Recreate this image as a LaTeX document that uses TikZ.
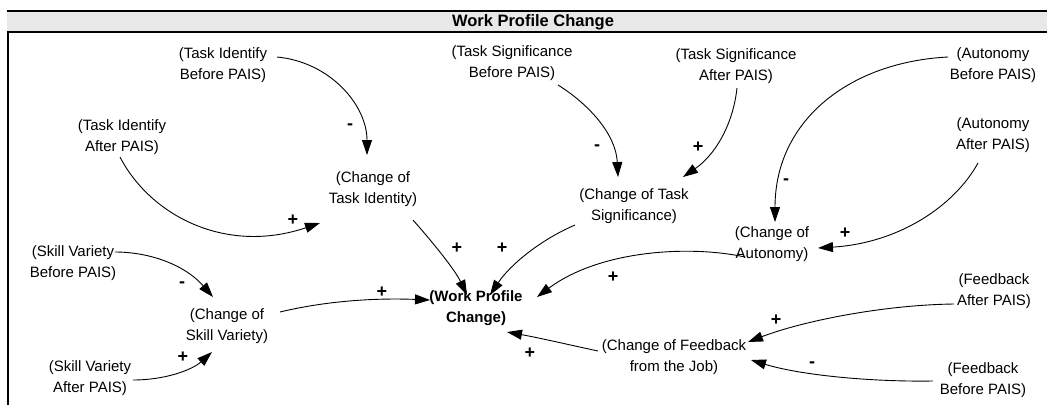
\documentclass[tikz,border=0pt]{standalone}
\usepackage{fontspec}
\setmainfont{Liberation Sans}
\usetikzlibrary{arrows.meta}
\begin{document}
\begin{tikzpicture}[x=1pt, y=1pt,
  every node/.style={font=\fontsize{15}{21}\selectfont},
  var/.style={align=center, inner sep=1pt},
  link/.style={-{Triangle[length=15pt,width=10pt]}, line width=0.9pt},
  sign/.style={font=\fontsize{18}{18}\selectfont\bfseries, inner sep=0pt}]
  \useasboundingbox (0,0) rectangle (1047,-405);
  % frame and title bar
  \fill[gray!18] (7,-11) rectangle (1047,-32);
  \draw[line width=2pt] (7,-11) -- (1047,-11) (7,-32) -- (1047,-32);
  \draw[line width=1.2pt] (8,-32) -- (8,-405);
  \node[font=\fontsize{16.5}{17}\selectfont\bfseries] (title) at (533,-22) {Work Profile Change};
  % variables
  \node[var] (TIB) at (223,-65) {(Task Identify\\Before PAIS)};
  \node[var] (TSB) at (512,-63) {(Task Significance\\Before PAIS)};
  \node[var] (TSA) at (736,-66) {(Task Significance\\After PAIS)};
  \node[var] (AUB) at (993,-65) {(Autonomy\\Before PAIS)};
  \node[var] (TIA) at (122,-137) {(Task Identify\\After PAIS)};
  \node[var] (AUA) at (993,-135) {(Autonomy\\After PAIS)};
  \node[var] (CTI) at (373,-189) {(Change of\\Task Identity)};
  \node[var] (CTS) at (634,-206) {(Change of Task\\Significance)};
  \node[var] (CAU) at (772,-244) {(Change of\\Autonomy)};
  \node[var] (SVB) at (73,-263) {(Skill Variety\\Before PAIS)};
  \node[var] (CSV) at (227,-326) {(Change of\\Skill Variety)};
  \node[var, font=\fontsize{15}{21}\selectfont\bfseries] (WPC) at (476,-308) {(Work Profile\\Change)};
  \node[var] (FBA) at (994,-291) {(Feedback\\After PAIS)};
  \node[var] (CFB) at (674,-357) {(Change of Feedback\\from the Job)};
  \node[var] (SVA) at (90,-378) {(Skill Variety\\After PAIS)};
  \node[var] (FBB) at (983,-380) {(Feedback\\Before PAIS)};
  % links
  \draw[link] ([shift={(54,8)}]TIB.center) .. controls (330,-62) and (367,-105) .. ([shift={(-6,34)}]CTI.center);
  \draw[link] ([shift={(-2,-20)}]TIA.center) .. controls (150,-215) and (225,-255) .. ([shift={(-53,-34)}]CTI.center);
  \draw[link] ([shift={(46,-22)}]TSB.center) .. controls (590,-105) and (616,-135) .. ([shift={(-16,29)}]CTS.center);
  \draw[link] ([shift={(1,-22)}]TSA.center) .. controls (733,-125) and (715,-155) .. ([shift={(49,29)}]CTS.center);
  \draw[link] ([shift={(-45,8)}]AUB.center) .. controls (850,-62) and (775,-120) .. ([shift={(3,22)}]CAU.center);
  \draw[link] ([shift={(-15,-28)}]AUA.center) .. controls (955,-205) and (900,-243) .. ([shift={(46,-4)}]CAU.center);
  \draw[link] ([shift={(40,-31)}]CTI.center) .. controls (435,-245) and (455,-270) .. ([shift={(-9,13)}]WPC.center);
  \draw[link] ([shift={(-59,-19)}]CTS.center) .. controls (540,-240) and (510,-265) .. ([shift={(14,13)}]WPC.center);
  \draw[link] ([shift={(-27,-13)}]CAU.center) .. controls (690,-245) and (600,-250) .. ([shift={(61,11)}]WPC.center);
  \draw[link] ([shift={(42,11)}]SVB.center) .. controls (150,-252) and (185,-265) .. ([shift={(-14,29)}]CSV.center);
  \draw[link] ([shift={(43,-2)}]SVA.center) .. controls (165,-380) and (192,-370) .. ([shift={(-15,-26)}]CSV.center);
  \draw[link] ([shift={(53,14)}]CSV.center) .. controls (330,-300) and (380,-298) .. ([shift={(-46,8)}]WPC.center);
  \draw[link] ([shift={(-76,6)}]CFB.center) .. controls (570,-345) and (540,-338) .. ([shift={(31,-24)}]WPC.center);
  \draw[link] ([shift={(-40,-13)}]FBA.center) .. controls (880,-305) and (800,-322) .. ([shift={(74,15)}]CFB.center);
  \draw[link] ([shift={(-50,-1)}]FBB.center) .. controls (870,-382) and (800,-375) .. ([shift={(77,-3)}]CFB.center);
  % polarities
  \foreach \n/\x/\y/\s in {1/350/127/-, 2/293/220/+, 3/597/148/-, 4/698/147/+, 5/786/182/-,
      6/845/233/+, 7/457/248/+, 8/502/248/+, 9/613/277/+, 10/182/285/-, 11/183/357/+,
      12/382/292/+, 13/530/353/+, 14/776/320/+, 15/812/365/-}
    \node[sign] (sg\n) at (\x,-\y) {\s};
\end{tikzpicture}
\end{document}
